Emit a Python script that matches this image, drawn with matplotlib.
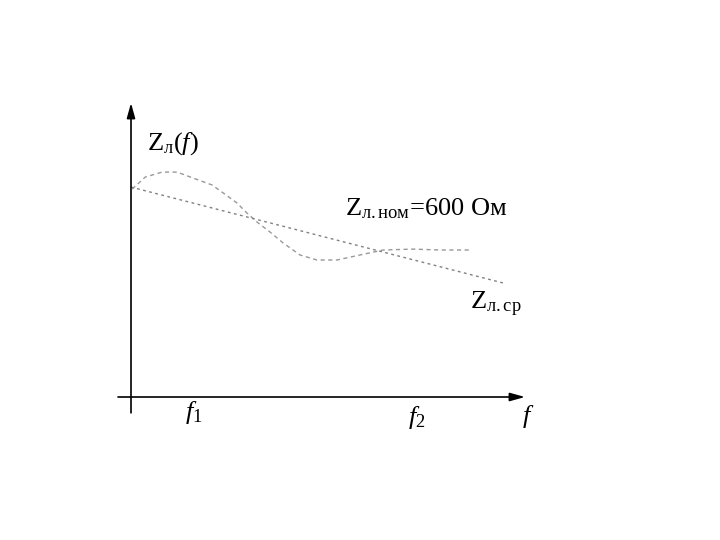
import numpy as np
import matplotlib
matplotlib.use('Agg')
import matplotlib.pyplot as plt

plt.rcParams['font.family'] = ['Liberation Serif', 'DejaVu Serif']
plt.rcParams['mathtext.fontset'] = 'custom'
plt.rcParams['mathtext.rm'] = 'Liberation Serif'
plt.rcParams['mathtext.it'] = 'Liberation Serif:italic'

# wavy line Zл(f), relative units (f: 0..1, Z: 0..1)
f_wave = [0.003, 0.036, 0.079, 0.117, 0.157, 0.206, 0.234, 0.269, 0.294, 0.320,
          0.353, 0.386, 0.429, 0.472, 0.523, 0.581, 0.640, 0.716, 0.784, 0.860]
z_wave = [0.707, 0.748, 0.765, 0.765, 0.745, 0.721, 0.694, 0.660, 0.626, 0.595,
          0.561, 0.524, 0.483, 0.466, 0.466, 0.483, 0.500, 0.503, 0.500, 0.500]

# straight averaged line Zл.ср
f_avg = [0.0, 0.944]
z_avg = [0.714, 0.388]

# label positions on the f axis
f1_pos = 0.137
f2_pos = 0.703

fig = plt.figure(figsize=(7.2, 5.4), dpi=100)
ax = fig.add_axes([0, 0, 1, 1])
# origin of the drawing at pixel (131, 397) of 720x540
ax.set_xlim(-131 / 394, (720 - 131) / 394)
ax.set_ylim(-(540 - 397) / 294, 397 / 294)
ax.axis('off')

# axes with arrows
ax.annotate('', xy=(1.0, 0), xytext=(-0.033, 0),
            arrowprops=dict(arrowstyle='-|>,head_length=0.9,head_width=0.25',
                            color='black', lw=1.2, shrinkA=0, shrinkB=0))
ax.annotate('', xy=(0, 1.0), xytext=(0, -0.054),
            arrowprops=dict(arrowstyle='-|>,head_length=0.9,head_width=0.25',
                            color='black', lw=1.2, shrinkA=0, shrinkB=0))

ax.plot(f_wave, z_wave, color='0.6', lw=1, linestyle=(0, (3, 2.5)))
ax.plot(f_avg, z_avg, color='0.5', lw=1, linestyle=(0, (2, 2.5)))

fs = 19
ax.text(0.040, 0.840, r'Z$_{\mathrm{л}}$($\mathit{f}$)', fontsize=fs, va='baseline')
ax.text(0.543, 0.616, r'Z$_{\mathrm{л.ном}}$=600 Ом', fontsize=fs, va='baseline')
ax.text(0.860, 0.299, r'Z$_{\mathrm{л.ср}}$', fontsize=fs, va='baseline')
ax.text(f1_pos, -0.075, r'$\mathit{f}_{\mathrm{1}}$', fontsize=fs, va='baseline')
ax.text(f2_pos, -0.092, r'$\mathit{f}_{\mathrm{2}}$', fontsize=fs, va='baseline')
ax.text(0.992, -0.088, r'$\mathit{f}$', fontsize=fs, va='baseline')

fig.savefig('out.png', dpi=100)
